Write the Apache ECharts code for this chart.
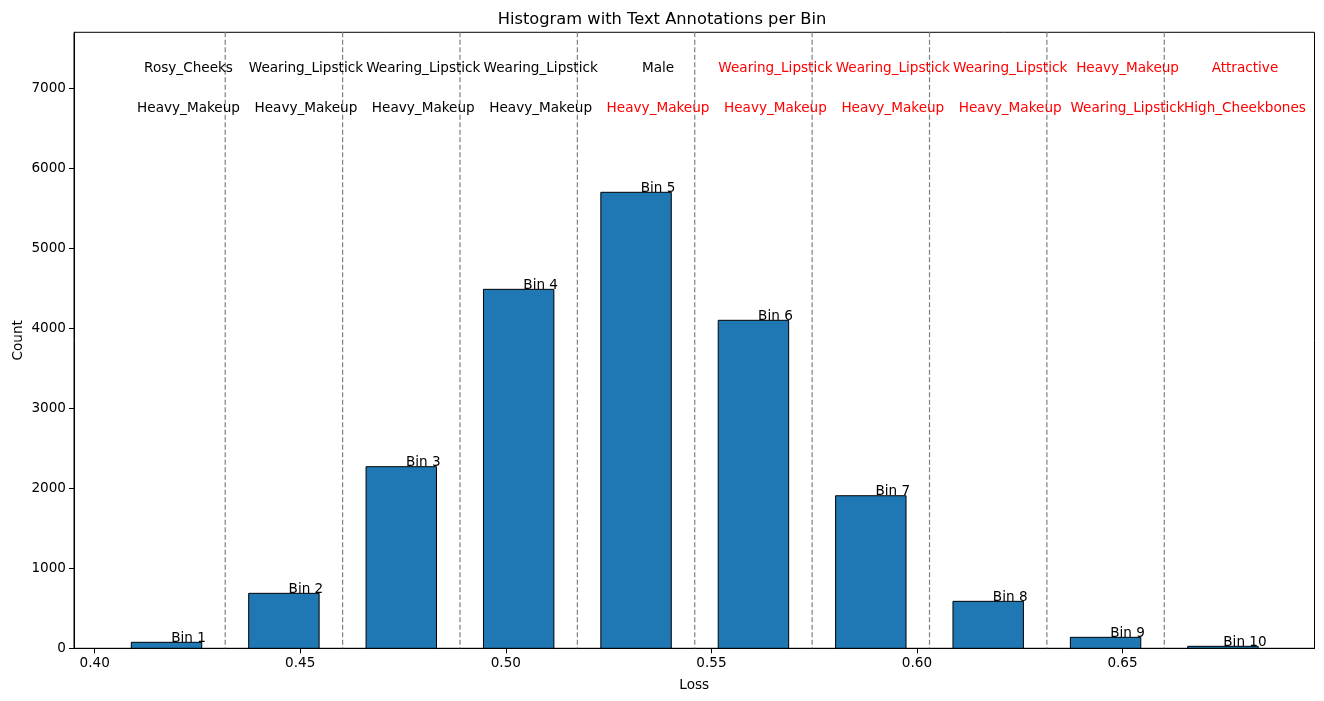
<!DOCTYPE html>
<html>
<head>
<meta charset="utf-8">
<script src="https://cdn.jsdelivr.net/npm/echarts@6/dist/echarts.min.js"></script>
<style>
  html, body { margin: 0; padding: 0; background: #fff; }
  #chart { width: 1324px; height: 701px; }
</style>
</head>
<body>
<div id="chart"></div>
<script>
// histogram bin edges (loss) and counts
const binEdges = [0.4032, 0.43175, 0.4603, 0.48885, 0.5174, 0.54595, 0.5745, 0.60305, 0.6316, 0.66015, 0.6887];
const counts = [75, 687, 2270, 4487, 5700, 4100, 1907, 587, 137, 25];
const binNames = ['Bin 1', 'Bin 2', 'Bin 3', 'Bin 4', 'Bin 5', 'Bin 6', 'Bin 7', 'Bin 8', 'Bin 9', 'Bin 10'];
// top two attributes per bin, and whether each is flagged (drawn red)
const topAttr1 = ['Rosy_Cheeks', 'Wearing_Lipstick', 'Wearing_Lipstick', 'Wearing_Lipstick', 'Male',
  'Wearing_Lipstick', 'Wearing_Lipstick', 'Wearing_Lipstick', 'Heavy_Makeup', 'Attractive'];
const topAttr2 = ['Heavy_Makeup', 'Heavy_Makeup', 'Heavy_Makeup', 'Heavy_Makeup', 'Heavy_Makeup',
  'Heavy_Makeup', 'Heavy_Makeup', 'Heavy_Makeup', 'Wearing_Lipstick', 'High_Cheekbones'];
const flag1 = [false, false, false, false, false, true, true, true, true, true];
const flag2 = [false, false, false, false, true, true, true, true, true, true];
const xTicks = [0.40, 0.45, 0.50, 0.55, 0.60, 0.65];
const yTicks = [0, 1000, 2000, 3000, 4000, 5000, 6000, 7000];

const FONT = 'DejaVu Sans';
const FS = 13.6;
const rwidth = 0.6;
const textShift = 0.00535; // annotations sit slightly right of bin centre
const row1Y = 7245;
const row2Y = 6745;

const chart = echarts.init(document.getElementById('chart'));

const barData = counts.map((c, i) => [binEdges[i], binEdges[i + 1], c]);
const textData = counts.map((c, i) => [(binEdges[i] + binEdges[i + 1]) / 2 + textShift, c, i]);
const edgeData = binEdges.slice(1, -1).map(e => [e, 0]);

const option = {
  animation: false,
  backgroundColor: '#fff',
  title: {
    text: 'Histogram with Text Annotations per Bin',
    left: 'center',
    top: 7,
    textStyle: { fontFamily: FONT, fontSize: 16.3, fontWeight: 'normal', color: '#000' }
  },
  grid: {
    left: 74, right: 9.5, top: 32.3, bottom: 52.7,
    outerBoundsMode: 'none',
    containLabel: false,
    show: true, borderColor: '#000', borderWidth: 1, backgroundColor: 'transparent'
  },
  xAxis: {
    type: 'value',
    min: 0.39497,
    max: 0.69669,
    name: 'Loss',
    nameLocation: 'middle',
    nameGap: 30,
    nameMoveOverlap: false,
    nameTextStyle: { fontFamily: FONT, fontSize: FS, color: '#000' },
    splitLine: { show: false },
    axisLine: { show: true, onZero: false, lineStyle: { color: '#000', width: 1 } },
    axisTick: { show: true, length: 5, customValues: xTicks, lineStyle: { color: '#000' } },
    axisLabel: {
      customValues: xTicks,
      formatter: v => v.toFixed(2),
      fontFamily: FONT, fontSize: FS, color: '#000', margin: 8
    }
  },
  yAxis: {
    type: 'value',
    min: 0,
    max: 7700,
    name: 'Count',
    nameLocation: 'middle',
    nameGap: 49,
    nameMoveOverlap: false,
    nameTextStyle: { fontFamily: FONT, fontSize: FS, color: '#000' },
    splitLine: { show: false },
    axisLine: { show: true, lineStyle: { color: '#000', width: 1 } },
    axisTick: { show: true, length: 5, customValues: yTicks, lineStyle: { color: '#000' } },
    axisLabel: {
      customValues: yTicks,
      formatter: v => String(v),
      fontFamily: FONT, fontSize: FS, color: '#000', margin: 8
    }
  },
  series: [
    {
      type: 'custom',
      name: 'edges',
      data: edgeData,
      encode: { x: 0, y: 1 },
      silent: true,
      renderItem: (params, api) => {
        const cs = params.coordSys;
        const x = api.coord([api.value(0), 0])[0];
        return {
          type: 'line',
          shape: { x1: x, y1: cs.y, x2: x, y2: cs.y + cs.height },
          style: { stroke: '#808080', lineWidth: 1.2, lineDash: [5, 2.5] }
        };
      },
      z: 1
    },
    {
      type: 'custom',
      name: 'hist',
      data: barData,
      encode: { x: [0, 1], y: 2 },
      renderItem: (params, api) => {
        const l = api.value(0), r = api.value(1), c = api.value(2);
        const w = r - l;
        const p0 = api.coord([l + w * (1 - rwidth) / 2, c]);
        const p1 = api.coord([r - w * (1 - rwidth) / 2, 0]);
        return {
          type: 'rect',
          shape: { x: p0[0], y: p0[1], width: p1[0] - p0[0], height: p1[1] - p0[1] },
          style: { fill: '#1f77b4', stroke: '#000', lineWidth: 1 }
        };
      },
      z: 2
    },
    {
      type: 'custom',
      name: 'annotations',
      data: textData,
      encode: { x: 0, y: 1 },
      renderItem: (params, api) => {
        const x = api.value(0), c = api.value(1), i = api.value(2);
        const pBin = api.coord([x, c]);
        const p1 = api.coord([x, row1Y]);
        const p2 = api.coord([x, row2Y]);
        const font = FS + 'px "' + FONT + '"';
        return {
          type: 'group',
          children: [
            {
              type: 'text',
              style: { text: binNames[i], x: pBin[0], y: pBin[1] + 3, align: 'center', verticalAlign: 'bottom', font: font, fill: '#000' }
            },
            {
              type: 'text',
              style: { text: topAttr1[i], x: p1[0], y: p1[1], align: 'center', verticalAlign: 'middle', font: font, fill: flag1[i] ? '#ff0000' : '#000' }
            },
            {
              type: 'text',
              style: { text: topAttr2[i], x: p2[0], y: p2[1], align: 'center', verticalAlign: 'middle', font: font, fill: flag2[i] ? '#ff0000' : '#000' }
            }
          ]
        };
      },
      z: 5
    }
  ]
};

chart.setOption(option);
</script>
</body>
</html>
